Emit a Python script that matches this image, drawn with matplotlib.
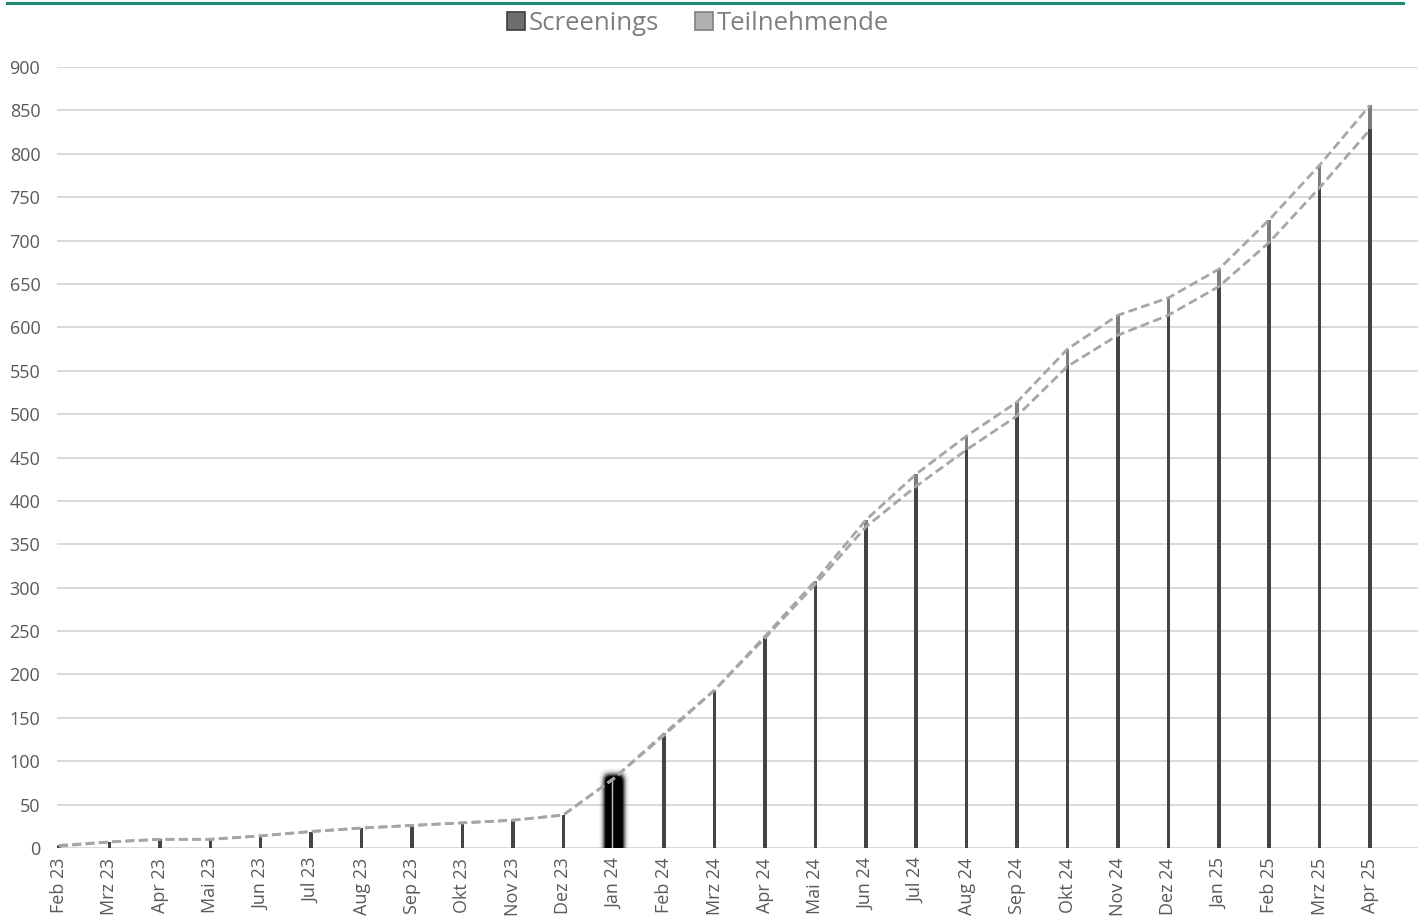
import numpy as np
import matplotlib
matplotlib.use("Agg")
import matplotlib.pyplot as plt
from matplotlib.patches import Patch
from matplotlib.lines import Line2D

plt.rcParams["font.family"] = ["Open Sans", "DejaVu Sans"]

# Monthly cumulative counts
months = ["Feb 23", "Mrz 23", "Apr 23", "Mai 23", "Jun 23", "Jul 23", "Aug 23",
          "Sep 23", "Okt 23", "Nov 23", "Dez 23", "Jan 24", "Feb 24", "Mrz 24",
          "Apr 24", "Mai 24", "Jun 24", "Jul 24", "Aug 24", "Sep 24", "Okt 24",
          "Nov 24", "Dez 24", "Jan 25", "Feb 25", "Mrz 25", "Apr 25"]
screenings = [2, 7, 10, 10, 14, 19, 23, 26, 29, 32, 38, 80, 130, 182,
              242, 304, 370, 417, 459, 498, 555, 591, 614, 647, 698, 761, 828]
teilnehmende = [3, 7, 10, 10, 14, 19, 23, 26, 29, 32, 38, 80, 132, 182,
                244, 308, 378, 431, 475, 514, 575, 614, 634, 667, 724, 787, 856]
y_ticks = list(range(0, 901, 50))
highlight = "Jan 24"

fig = plt.figure(figsize=(14.2, 9.16), dpi=100)
ax = fig.add_axes([57 / 1420, 1 - 848 / 916, 1361 / 1420, (848 - 67) / 916])

x = np.arange(len(months))
bar_w = 0.07
ax.bar(x, teilnehmende, width=bar_w, color="#7c7c7c", zorder=2)
ax.bar(x, screenings, width=bar_w, color="#444444", zorder=3)

# Blacked-out bar with soft edges
hi = months.index(highlight)
top = teilnehmende[hi] + 3
gx = np.linspace(hi - 0.45, hi + 0.45, 240)
gy = np.linspace(0, 120, 320)
X, Y = np.meshgrid(gx, gy)
mask = ((np.abs(X - hi) <= 0.18) & (Y <= top)).astype(float)

def gauss_kernel(sigma_px):
    r = int(3 * sigma_px) + 1
    t = np.arange(-r, r + 1)
    k = np.exp(-0.5 * (t / sigma_px) ** 2)
    return k / k.sum()

# pad bottom so blur does not fade at the baseline
pad = 60
m = np.vstack([np.repeat(mask[:1], pad, axis=0), mask])
kx = gauss_kernel(14.0)
ky = gauss_kernel(10.0)
m = np.apply_along_axis(lambda r: np.convolve(r, kx, mode="same"), 1, m)
m = np.apply_along_axis(lambda c: np.convolve(c, ky, mode="same"), 0, m)
m = m[pad:]
m = np.clip(m * 1.6, 0, 1)
rgba = np.zeros(m.shape + (4,))
rgba[..., 3] = m
ax.imshow(rgba, extent=(gx[0], gx[-1], gy[0], gy[-1]), origin="lower",
          aspect="auto", zorder=4, interpolation="bilinear")
ax.plot([hi - 0.03, hi - 0.03], [0, teilnehmende[hi] - 3], color="#e8e8e8",
        lw=1.0, alpha=0.85, zorder=5)

dash = (3.2, 1.6)
ax.plot(x, teilnehmende, color="#a6a6a6", lw=2, dashes=dash, zorder=6)
ax.plot(x, screenings, color="#a6a6a6", lw=2, dashes=dash, zorder=6)

ax.set_xlim(-0.04, 26.95)
ax.set_ylim(0, 900)
ax.set_yticks(y_ticks)
ax.set_xticks(x)
ax.set_xticklabels(months, rotation=90)
ax.grid(axis="y", color="#d9d9d9", lw=1.4, zorder=0)
ax.set_axisbelow(True)
for s in ax.spines.values():
    s.set_visible(False)
ax.tick_params(axis="both", length=0, labelsize=13, labelcolor="#595959")
ax.tick_params(axis="y", pad=12)
ax.tick_params(axis="x", pad=7)

handles = [Patch(facecolor="#6e6e6e", edgecolor="#3f3f3f", lw=1.2),
           Patch(facecolor="#b0b0b0", edgecolor="#7f7f7f", lw=1.2)]
leg = fig.legend(handles, ["Screenings", "Teilnehmende"], loc="center",
                 bbox_to_anchor=(698 / 1420, 1 - 23 / 916), ncol=2, frameon=False,
                 fontsize=18.5, handlelength=0.7, handleheight=0.7,
                 handletextpad=0.15, columnspacing=1.4, borderaxespad=0)
for t in leg.get_texts():
    t.set_color("#7f7f7f")

fig.add_artist(Line2D([7 / 1420, 1403 / 1420], [1 - 2.5 / 916, 1 - 2.5 / 916],
                      color="#1f8a70", lw=2.2, transform=fig.transFigure))

fig.savefig("out.png", dpi=100, facecolor="white")
